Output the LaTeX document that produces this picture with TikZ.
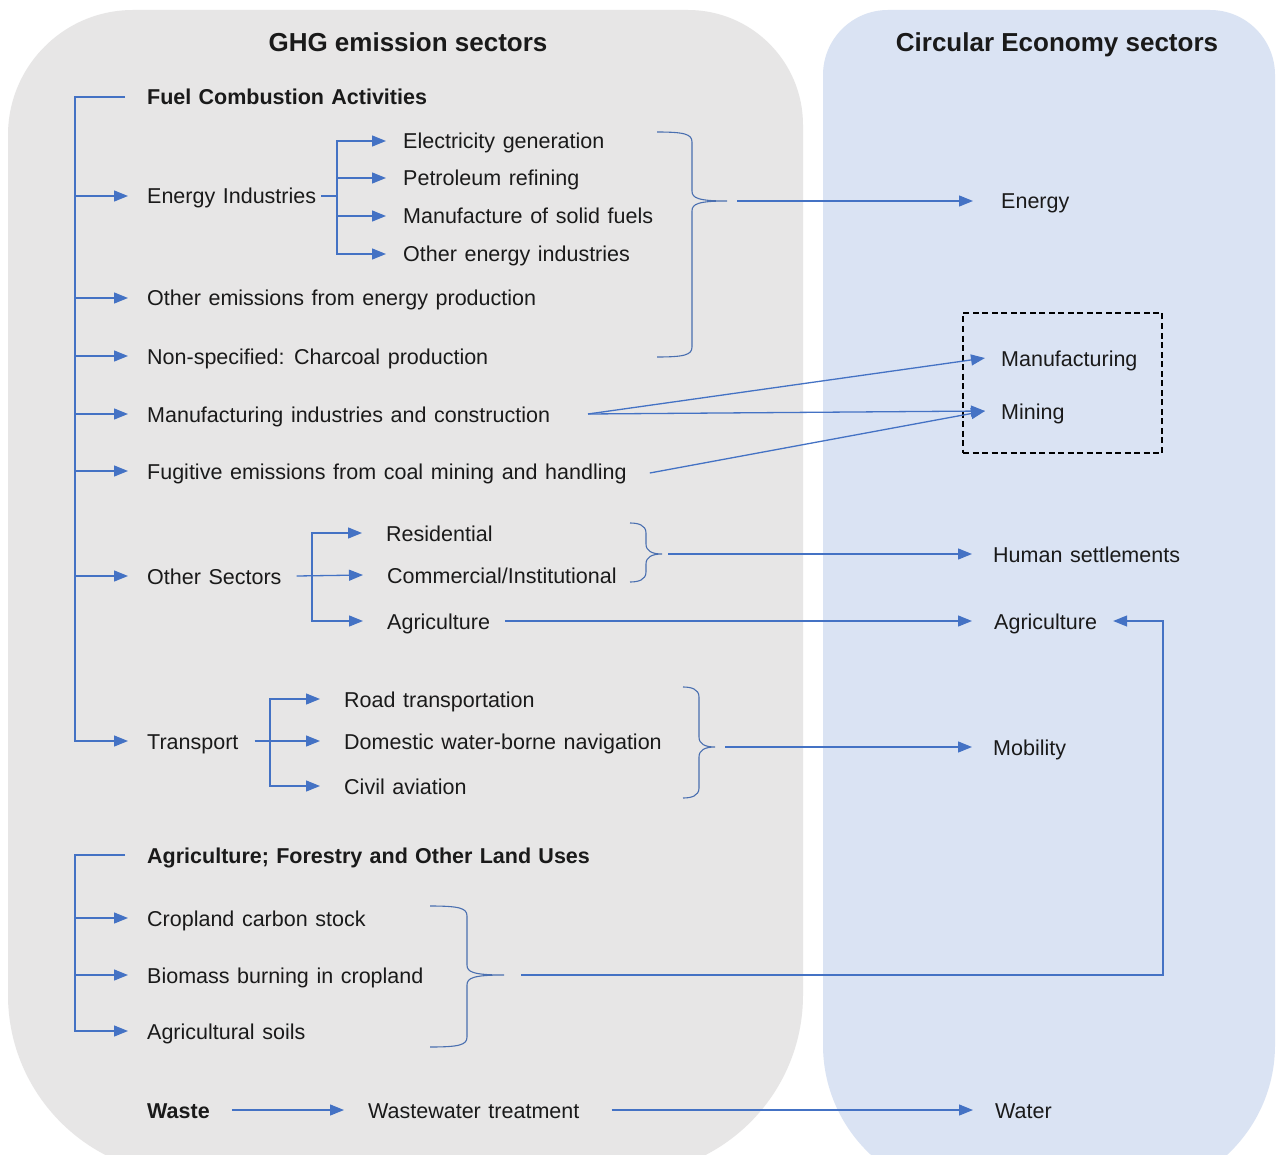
\documentclass[tikz,border=0pt]{standalone}
\usepackage{fontspec}
\setmainfont{Liberation Sans}
\usetikzlibrary{arrows.meta}
\definecolor{gpanel}{HTML}{E7E6E6}
\definecolor{bpanel}{HTML}{DAE3F3}
\definecolor{lineblue}{HTML}{4472C4}
\definecolor{bracecol}{HTML}{4A6FB0}
\definecolor{txtcol}{HTML}{1A1A1A}
\newcommand{\lblfont}{\fontsize{21.5}{26}\selectfont\spaceskip=7.6pt plus 1pt minus 1pt\relax}
\newcommand{\hdfont}{\fontsize{21.5}{26}\selectfont\bfseries\spaceskip=7.3pt plus 1pt minus 1pt\relax}
% curly brace: #1 end x, #2 spine x, #3 tip x, #4 top y, #5 tip y, #6 bottom y, #7 tip name
\newcommand{\gbrace}[7]{%
  \draw[bracestyle] (#1,#4) .. controls ({#2-8},#4) and (#2,{#4+2}) .. (#2,{#4+10})
    -- (#2,{#5-10}) .. controls (#2,{#5-3}) and ({#2+6},#5) .. (#3,#5)
    .. controls ({#2+6},#5) and (#2,{#5+3}) .. (#2,{#5+10})
    -- (#2,{#6-10}) .. controls (#2,{#6-2}) and ({#2-8},#6) .. (#1,#6);
  \coordinate (#7) at (#3,#5);}
\tikzset{
  lbl/.style={anchor=west, inner sep=0pt, text=txtcol, font=\lblfont, text height=18pt, text depth=2pt},
  hd/.style={lbl, font=\hdfont},
  ttl/.style={anchor=center, inner sep=0pt, text=txtcol, font=\fontsize{26}{31}\selectfont\bfseries, text height=20pt, text depth=0pt},
  conn/.style={draw=lineblue, line width=1.3pt},
  arr/.style={conn, -{Triangle[length=14pt,width=11pt]}},
  bracestyle/.style={draw=bracecol, line width=1.1pt},
  dbox/.style={draw=black, line width=1.7pt, dash pattern=on 6pt off 3.5pt}
}
\begin{document}
\begin{tikzpicture}[x=1pt,y=-1pt]
\useasboundingbox (0,0) rectangle (1276,1155);
\fill[white] (0,0) rectangle (1276,1155);
\begin{scope}
\clip (0,0) rectangle (1276,1155);
% grey panel
\fill[gpanel] (133,10) -- (688,10) .. controls (751.5,10) and (803,61.5) .. (803,125)
  -- (803,995) .. controls (803,1094.4) and (722.4,1175) .. (623,1175)
  -- (188,1175) .. controls (88.6,1175) and (8,1094.4) .. (8,995)
  -- (8,135) .. controls (8,66) and (64,10) .. (133,10) -- cycle;
% blue panel
\fill[bpanel] (888,10) -- (1210,10) .. controls (1245.9,10) and (1275,39.1) .. (1275,75)
  -- (1275,1045) .. controls (1275,1127.8) and (1207.8,1195) .. (1125,1195)
  -- (973,1195) .. controls (890.2,1195) and (823,1127.8) .. (823,1045)
  -- (823,75) .. controls (823,39.1) and (852.1,10) .. (888,10) -- cycle;
\end{scope}

% titles
\node[ttl] (t1) at (408,42) {GHG emission sectors};
\node[ttl] (t2) at (1057,42) {Circular Economy sectors};

% left column
\node[hd]  (fca)  at (147,97)  {Fuel Combustion Activities};
\node[lbl] (ei)   at (147,196) {Energy Industries};
\node[lbl] (eg)   at (403,141) {Electricity generation};
\node[lbl] (pr)   at (403,178) {Petroleum refining};
\node[lbl] (msf)  at (403,216) {Manufacture of solid fuels};
\node[lbl] (oei)  at (403,254) {Other energy industries};
\node[lbl] (oep)  at (147,298) {Other emissions from energy production};
\node[lbl] (nsc)  at (147,356) {Non-specified: Charcoal production};
\node[lbl] (mic)  at (147,414) {Manufacturing industries and construction};
\node[lbl] (fug)  at (147,471) {Fugitive emissions from coal mining and handling};
\node[lbl] (os)   at (147,576) {Other Sectors};
\node[lbl] (res)  at (386,533) {Residential};
\node[lbl] (com)  at (387,575) {Commercial/Institutional};
\node[lbl] (agr)  at (387,621) {Agriculture};
\node[lbl] (tr)   at (147,741) {Transport};
\node[lbl] (road) at (344,699) {Road transportation};
\node[lbl] (dom)  at (344,741) {Domestic water-borne navigation};
\node[lbl] (civ)  at (344,786) {Civil aviation};
\node[hd]  (afolu) at (147,855) {Agriculture; Forestry and Other Land Uses};
\node[lbl] (crop) at (147,918) {Cropland carbon stock};
\node[lbl] (bio)  at (147,975) {Biomass burning in cropland};
\node[lbl] (soil) at (147,1031) {Agricultural soils};
\node[hd]  (waste) at (147,1110) {Waste};
\node[lbl] (ww)   at (368,1110) {Wastewater treatment};

% right column
\node[lbl] (energy) at (1001,201) {Energy};
\node[lbl] (manu)   at (1001,358) {Manufacturing};
\node[lbl] (mining) at (1001,411) {Mining};
\node[lbl] (hs)     at (993,554)  {Human settlements};
\node[lbl] (agrR)   at (994,621)  {Agriculture};
\node[lbl] (mob)    at (993,747)  {Mobility};
\node[lbl] (water)  at (995,1110) {Water};
\node[dbox, minimum width=199pt, minimum height=140pt, inner sep=0pt] (dashbox) at (1062.5,383) {};

% main spine (fuel combustion)
\coordinate (s1b) at (75,741);
\draw[arr] ([xshift=-22pt]fca.west) -| (s1b) -- ([xshift=-19pt]tr.west);
\foreach \n in {ei,oep,nsc,mic,fug,os}
  \draw[arr] (\n.west -| s1b) -- ([xshift=-19pt]\n.west);

% energy industries branch
\coordinate (s2) at (337,196);
\draw[conn] ([xshift=5pt]ei.east) -- (s2);
\draw[arr] (s2) |- ([xshift=-17pt]eg.west);
\draw[arr] (s2) |- ([xshift=-17pt]oei.west);
\draw[arr] (pr.west -| s2) -- ([xshift=-17pt]pr.west);
\draw[arr] (msf.west -| s2) -- ([xshift=-17pt]msf.west);

% other sectors branch
\coordinate (s4) at (312,576);
\draw[arr] ([xshift=15pt]os.east) -- ([xshift=-24pt]com.west);
\draw[arr] (s4) |- ([xshift=-24pt]res.west);
\draw[arr] (s4) |- ([xshift=-24pt]agr.west);

% transport branch
\coordinate (s5) at (270,741);
\draw[arr] ([xshift=16pt]tr.east) -- ([xshift=-24pt]dom.west);
\draw[arr] (s5) |- ([xshift=-24pt]road.west);
\draw[arr] (s5) |- ([xshift=-24pt]civ.west);

% AFOLU spine
\coordinate (s3b) at (75,1031);
\draw[arr] ([xshift=-22pt]afolu.west) -| (s3b) -- ([xshift=-19pt]soil.west);
\draw[arr] (crop.west -| s3b) -- ([xshift=-19pt]crop.west);
\draw[arr] (bio.west -| s3b) -- ([xshift=-19pt]bio.west);

% braces
\gbrace{657}{692}{727}{132}{201}{357}{bt1}
\gbrace{630}{646}{662}{523}{554}{582}{bt2}
\gbrace{683}{699}{715}{687}{747}{798}{bt3}
\gbrace{430}{467}{504}{906}{975}{1047}{bt4}

% connectors to circular economy sectors
\draw[arr] ([xshift=10pt]bt1) -- ([xshift=-28pt]energy.west);
\coordinate (mstart) at (588,414);
\draw[arr] (mstart) -- ([xshift=-16pt]manu.west);
\draw[arr] (mstart) -- ([xshift=-16pt]mining.west);
\draw[arr] ([xshift=23pt,yshift=-2pt]fug.east) -- ([xshift=-16pt]mining.west);
\draw[arr] ([xshift=6pt]bt2) -- ([xshift=-21pt]hs.west);
\draw[arr] ([xshift=15pt]agr.east) -- ([xshift=-22pt]agrR.west);
\draw[arr] ([xshift=10pt]bt3) -- ([xshift=-21pt]mob.west);
\coordinate (loopc) at (1163,621);
\draw[arr] ([xshift=17pt]bt4) -| (loopc) -- ([xshift=16pt]agrR.east);
\draw[arr] ([xshift=22pt]waste.east) -- ([xshift=-24pt]ww.west);
\draw[arr] ([xshift=32pt]ww.east) -- ([xshift=-22pt]water.west);
\end{tikzpicture}
\end{document}
